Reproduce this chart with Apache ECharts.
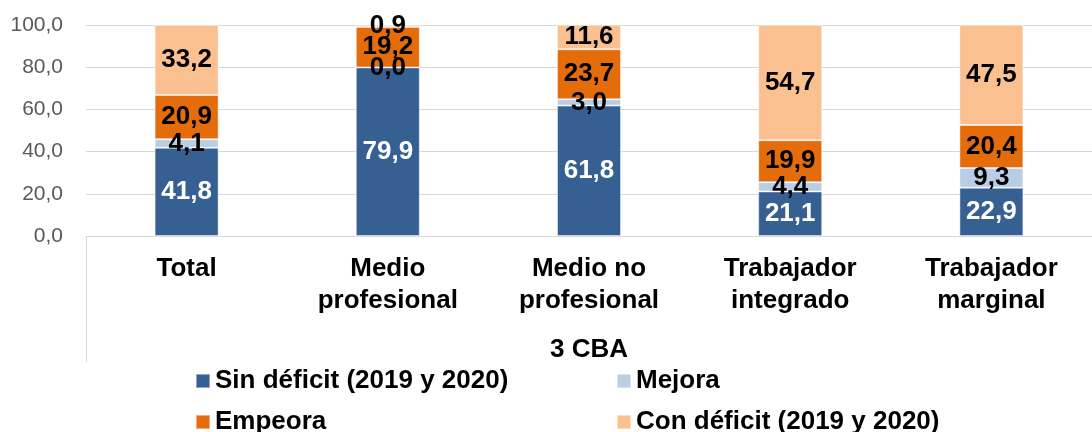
<!DOCTYPE html>
<html>
<head>
<meta charset="utf-8">
<script src="https://cdn.jsdelivr.net/npm/echarts@6/dist/echarts.min.js"></script>
<style>
  html, body { margin: 0; padding: 0; background: #fff; }
  #chart { width: 1092px; height: 432px; }
</style>
</head>
<body>
<div id="chart"></div>
<script>
// datos
var categories = ['Total', 'Medio\nprofesional', 'Medio no\nprofesional', 'Trabajador\nintegrado', 'Trabajador\nmarginal'];
var groupLabel = ['3 CBA'];
var seriesNames = ['Sin déficit (2019 y 2020)', 'Mejora', 'Empeora', 'Con déficit (2019 y 2020)'];
var sinDeficit = [41.8, 79.9, 61.8, 21.1, 22.9];
var mejora = [4.1, 0.0, 3.0, 4.4, 9.3];
var empeora = [20.9, 19.2, 23.7, 19.9, 20.4];
var conDeficit = [33.2, 0.9, 11.6, 54.7, 47.5];
var colors = ['#376092', '#B9CDE5', '#E46C0A', '#FAC090'];

var font = 'Liberation Sans, Arial, sans-serif';
var myChart = echarts.init(document.getElementById('chart'));

function fmt(v) {
    return Number(v).toFixed(1).replace('.', ',');
}

function makeSeries(name, data, color, labelColor) {
    return {
        name: name,
        type: 'bar',
        stack: 'total',
        barWidth: 64,
        xAxisIndex: 0,
        data: data,
        itemStyle: { color: color, borderColor: 'rgba(255,255,255,0.45)', borderWidth: 1 },
        label: {
            show: true,
            position: 'inside',
            color: labelColor,
            fontFamily: font,
            fontWeight: 'bold',
            fontSize: 26,
            formatter: function (p) { return fmt(p.value); }
        }
    };
}

// leyenda: una por elemento, dos columnas
var legendPos = [[195, 368], [616, 368], [195, 409], [616, 409]];
var legends = seriesNames.map(function (n, i) {
    return {
        data: [n],
        left: legendPos[i][0],
        top: legendPos[i][1],
        padding: 0,
        itemWidth: 14,
        itemHeight: 14,
        itemGap: 0,
        icon: 'rect',
        textStyle: { fontFamily: font, fontWeight: 'bold', fontSize: 26, color: '#000' }
    };
});

var option = {
    animation: false,
    color: colors,
    grid: { left: 86, top: 25, width: 1020, bottom: 196 },
    legend: legends,
    xAxis: [
        {
            type: 'category',
            data: categories,
            axisTick: { show: false },
            axisLine: { lineStyle: { color: '#D9D9D9', width: 1 } },
            axisLabel: {
                interval: 0,
                margin: 17,
                color: '#000',
                fontFamily: font,
                fontWeight: 'bold',
                fontSize: 26,
                lineHeight: 32
            }
        },
        {
            type: 'category',
            position: 'bottom',
            data: groupLabel,
            axisLine: { show: false },
            axisTick: { show: true, length: 126, lineStyle: { color: '#D9D9D9' } },
            axisLabel: {
                margin: 101,
                color: '#000',
                fontFamily: font,
                fontWeight: 'bold',
                fontSize: 26
            },
            splitLine: { show: false }
        }
    ],
    yAxis: {
        type: 'value',
        min: 0,
        max: 100,
        interval: 20,
        axisLine: { show: false },
        axisTick: { show: false },
        splitLine: { lineStyle: { color: '#D9D9D9', width: 1 } },
        axisLabel: {
            margin: 23,
            color: '#595959',
            fontFamily: font,
            fontSize: 21,
            formatter: function (v) { return fmt(v); }
        }
    },
    series: [
        makeSeries(seriesNames[0], sinDeficit, colors[0], '#fff'),
        makeSeries(seriesNames[1], mejora, colors[1], '#000'),
        makeSeries(seriesNames[2], empeora, colors[2], '#000'),
        makeSeries(seriesNames[3], conDeficit, colors[3], '#000')
    ]
};

myChart.setOption(option);
</script>
</body>
</html>
